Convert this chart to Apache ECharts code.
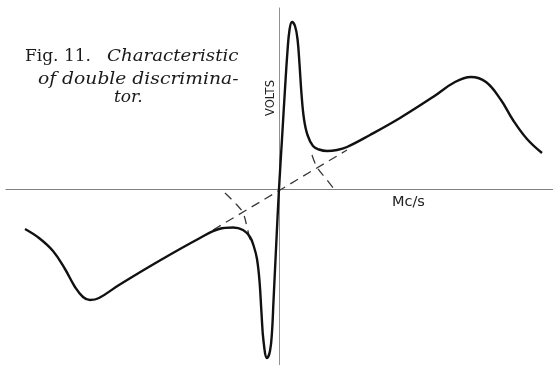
<!DOCTYPE html>
<html>
<head>
<meta charset="utf-8">
<script src="https://cdn.jsdelivr.net/npm/echarts@6/dist/echarts.min.js"></script>
<style>
  html, body { margin: 0; padding: 0; background: #ffffff; }
  #chart { width: 553px; height: 365px; }
</style>
</head>
<body>
<div id="chart"></div>
<script>
// Frequency offset (arbitrary units) vs. output volts of the double discriminator
const outputCurve = [
  [-25.4, -4.0], [-24.0, -4.9], [-22.6, -6.2], [-21.4, -8.0], [-20.4, -9.8],
  [-19.6, -10.8], [-18.9, -11.1], [-18.0, -10.9], [-16.0, -9.6], [-12.0, -7.2],
  [-7.9, -4.9], [-6.0, -4.0], [-4.6, -3.85], [-3.6, -4.1], [-2.9, -4.8],
  [-2.5, -5.8], [-2.2, -7.0], [-1.95, -9.2], [-1.75, -12.4], [-1.55, -15.2],
  [-1.2, -16.9], [-0.9, -16.2], [-0.7, -14.3], [-0.55, -11.2], [-0.28, -5.6],
  [0, 0], [0.3, 5.0], [0.6, 10.0], [0.85, 13.8], [1.05, 15.9], [1.3, 16.7],
  [1.6, 16.3], [1.85, 15.0], [2.05, 12.5], [2.25, 9.5], [2.5, 7.0],
  [2.85, 5.4], [3.4, 4.3], [4.0, 3.95], [4.8, 3.8], [5.8, 3.9], [6.8, 4.2],
  [9.1, 5.4], [12.1, 7.1], [15.4, 9.2], [17.6, 10.7], [19.2, 11.2],
  [20.7, 10.7], [22.2, 8.9], [23.4, 6.9], [24.8, 5.0], [26.3, 3.6]
];

// Linear part of the characteristic (dashed)
const linearPart = [[-6.6, -4.1], [6.8, 3.9]];

// Tails of the two separate discriminator responses (dashed)
const upperTail = [[3.3, 3.4], [3.8, 2.2], [4.8, 0.9], [5.5, 0.0]];
const lowerTail = [[-5.4, -0.4], [-4.2, -1.6], [-3.6, -2.4], [-3.2, -3.8], [-2.9, -5.1]];

const xRange = [-27.3, 27.4];
const yRange = [-17.6, 18.1];

const chart = echarts.init(document.getElementById('chart'), null, { renderer: 'canvas' });

const dashed = {
  color: '#3a3a3a',
  width: 1.3,
  type: [9, 6]
};

chart.setOption({
  backgroundColor: '#ffffff',
  animation: false,
  grid: { left: 6, right: 0, top: 8, bottom: 0, containLabel: false },
  xAxis: {
    type: 'value',
    min: xRange[0],
    max: xRange[1],
    axisLine: { onZero: true, lineStyle: { color: '#808080', width: 1 } },
    axisTick: { show: false },
    axisLabel: { show: false },
    splitLine: { show: false }
  },
  yAxis: {
    type: 'value',
    min: yRange[0],
    max: yRange[1],
    axisLine: { show: true, onZero: true, lineStyle: { color: '#909090', width: 1 } },
    axisTick: { show: false },
    axisLabel: { show: false },
    splitLine: { show: false }
  },
  series: [
    {
      type: 'line',
      data: linearPart,
      symbol: 'none',
      lineStyle: dashed,
      z: 2
    },
    {
      type: 'line',
      data: upperTail,
      symbol: 'none',
      smooth: 0.4,
      lineStyle: dashed,
      z: 2
    },
    {
      type: 'line',
      data: lowerTail,
      symbol: 'none',
      smooth: 0.4,
      lineStyle: dashed,
      z: 2
    },
    {
      type: 'line',
      data: outputCurve,
      symbol: 'none',
      smooth: 0.4,
      lineStyle: { color: '#111111', width: 2.4 },
      z: 3
    }
  ],
  graphic: [
    {
      type: 'text', left: 25, top: 48,
      style: { text: 'Fig. 11.', font: '17px "DejaVu Serif"', fill: '#1a1a1a' }
    },
    {
      type: 'text', left: 107, top: 48, scaleX: 1.07,
      style: { text: 'Characteristic', font: 'italic 17px "DejaVu Serif"', fill: '#1a1a1a' }
    },
    {
      type: 'text', left: 38, top: 71, scaleX: 1.1,
      style: { text: 'of double discrimina-', font: 'italic 17px "DejaVu Serif"', fill: '#1a1a1a' }
    },
    {
      type: 'text', left: 114, top: 89,
      style: { text: 'tor.', font: 'italic 17px "DejaVu Serif"', fill: '#1a1a1a' }
    },
    {
      type: 'text', x: 271, y: 98, rotation: Math.PI / 2,
      style: {
        text: 'VOLTS', font: '11.5px "DejaVu Sans"', fill: '#222222',
        align: 'center', verticalAlign: 'middle'
      }
    },
    {
      type: 'text', left: 392, top: 195,
      style: { text: 'Mc/s', font: '14.5px "DejaVu Sans"', fill: '#222222' }
    }
  ]
});
</script>
</body>
</html>
